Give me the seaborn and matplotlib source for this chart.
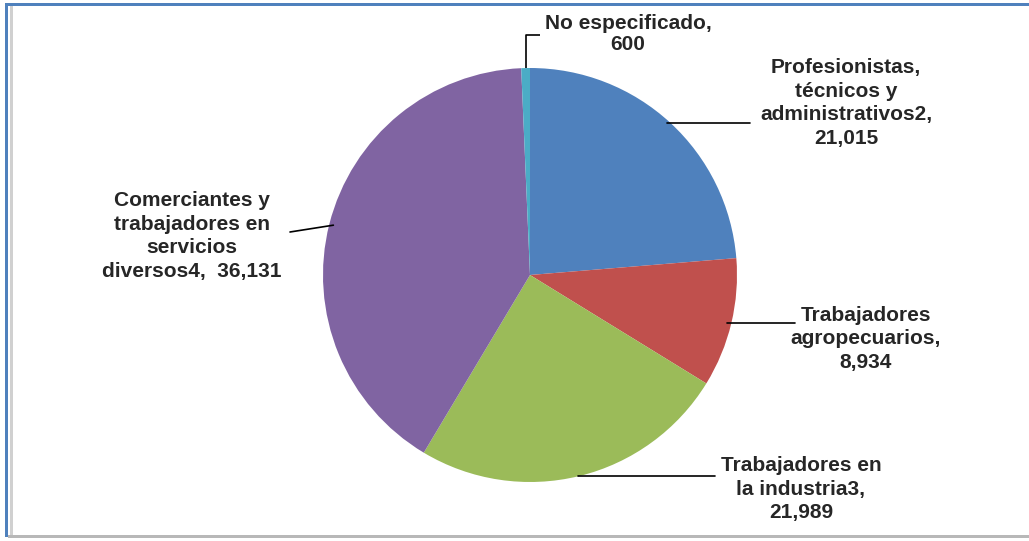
import numpy as np
import matplotlib
matplotlib.use("Agg")
import matplotlib.pyplot as plt
import seaborn as sns
from matplotlib.patches import Rectangle

# Datos: población ocupada por grupo de ocupación
categorias = [
    "Profesionistas,\ntécnicos y\nadministrativos2,",
    "Trabajadores\nagropecuarios,",
    "Trabajadores en\nla industria3,",
    "Comerciantes y\ntrabajadores en\nservicios\ndiversos4, ",
    "No especificado,",
]
valores = [21015, 8934, 21989, 36131, 600]
colores = ["#4F81BD", "#C0504D", "#9BBB59", "#8064A2", "#4BACC6"]

sns.set_theme(style="white")
plt.rcParams["font.family"] = ["Liberation Sans", "DejaVu Sans"]

W, H = 1029, 541
fig = plt.figure(figsize=(W / 100, H / 100), dpi=100)
fig.patch.set_facecolor("white")

# pie centrado en (530, 275) px con radio 207 px
cx, cy, r = 530, 275, 207
ax = fig.add_axes([(cx - r) / W, (H - cy - r) / H, 2 * r / W, 2 * r / H])
wedges, _ = ax.pie(valores, colors=colores, startangle=90, counterclock=False,
                   radius=1, wedgeprops=dict(linewidth=0))
ax.set_xlim(-1, 1)
ax.set_ylim(-1, 1)
ax.set_aspect("equal")
ax.axis("off")


def px(x, y):
    # pixeles de la imagen -> coordenadas de datos del pie
    return (x - cx) / r, (cy - y) / r


# textos de las etiquetas: (centro x, centro y) en pixeles
pos_texto = [(846, 103), (866, 339), (801, 489), (192, 236), (628, 34)]
# fin de la línea guía junto al texto (x, y) en px; None = en escuadra
fin_linea = [750, 795, 715, (290, 232), None]

estilo = dict(fontsize=15, fontweight="bold", color="#262626",
              ha="center", va="center", multialignment="center",
              linespacing=1.3)

for i, w in enumerate(wedges):
    ang = np.deg2rad((w.theta1 + w.theta2) / 2)
    x0, y0 = np.cos(ang), np.sin(ang)
    tx, ty = px(*pos_texto[i])
    etiqueta = f"{categorias[i]}\n{valores[i]:,}"
    if i == 3:
        etiqueta = f"{categorias[i]} {valores[i]:,}"
    est = dict(estilo)
    if i == 4:
        est["linespacing"] = 1.15
    ax.text(tx, ty, etiqueta, clip_on=False, **est)

    fl = fin_linea[i]
    if fl is None:
        # línea vertical hacia arriba y luego horizontal
        x1, y1 = px(540, 35)
        ax.plot([x0, x0, x1], [y0, y1, y1], color="black", lw=1.2,
                clip_on=False, solid_capstyle="butt")
    elif isinstance(fl, tuple):
        x1, y1 = px(*fl)
        ax.plot([x0 * 0.98, x1], [y0 * 0.98, y1], color="black", lw=1.2,
                clip_on=False)
    else:
        x1, _ = px(fl, 0)
        ax.plot([x0 * 0.98, x1], [y0, y0], color="black", lw=1.2,
                clip_on=False)

# marco de la figura
def rect_px(x, y, w, h, color):
    fig.add_artist(Rectangle((x / W, 1 - (y + h) / H), w / W, h / H,
                             transform=fig.transFigure, facecolor=color,
                             edgecolor="none"))

rect_px(5, 3, W - 5, 3, "#4F81BD")
rect_px(5, 3, 3, 534, "#4F81BD")
rect_px(10, 6, 3, 531, "#D0D0D0")
rect_px(8, 535, W - 8, 3, "#B8B8B8")

fig.savefig("out.png", dpi=100)
